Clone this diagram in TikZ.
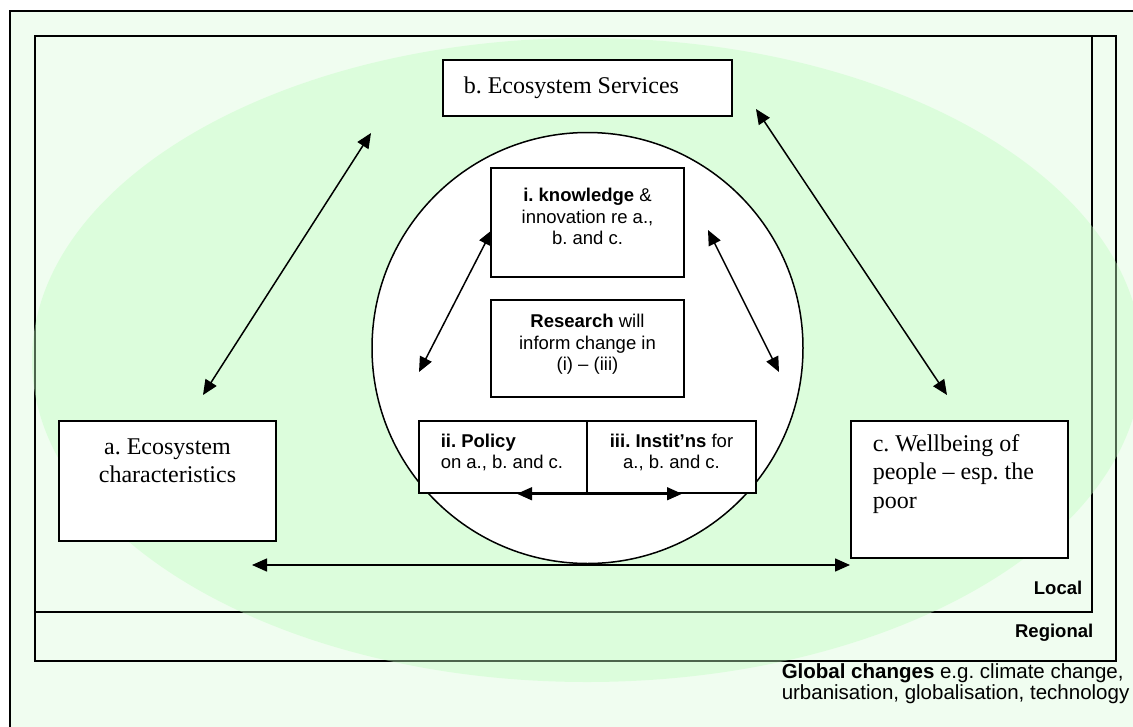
\documentclass[tikz,border=0pt]{standalone}
\usepackage{fontspec}
\setmainfont{Liberation Serif}
\setsansfont{Liberation Sans}
\usetikzlibrary{arrows.meta}
\definecolor{globalbg}{HTML}{F0FDF0}
\definecolor{blobgreen}{HTML}{C0FDC0}
\frenchspacing

\begin{document}
\begin{tikzpicture}[x=1pt,y=-1pt,line width=1.5pt,
    tri/.style={{Triangle[length=15pt,width=13pt]}-{Triangle[length=15pt,width=13pt]}},
    wbox/.style={draw,fill=white,line width=1.5pt,inner sep=0pt},
    seriftxt/.style={font=\fontsize{24}{28.5}\selectfont,inner sep=0pt},
    sanstxt/.style={font=\sffamily\fontsize{18.5}{21.5}\selectfont,inner sep=0pt},
    scalelbl/.style={font=\sffamily\bfseries\fontsize{18.5}{21.5}\selectfont,inner sep=0pt,anchor=east}]
    \useasboundingbox (0,0) rectangle (1133,726);
    %% global frame
    \begin{scope}
      \clip (0,0) rectangle (1133,726);
      \draw[fill=globalbg] (10,11) rectangle (1170,760);
    \end{scope}
    %% regional and local frames
    \draw[line width=1.6pt] (35,36) rectangle (1116,661);
    \draw[line width=1.6pt] (35,36) rectangle (1092,612);
    %% green blob
    \fill[blobgreen,fill opacity=0.4] (587,360) ellipse [x radius=555, y radius=322];
    %% centre circle
    \node (hub) [draw,circle,fill=white,inner sep=0pt,minimum size=431pt] at (587.5,348) {};
    %% boxes
    \node (serv) [wbox,minimum width=289pt,minimum height=56pt] at (587.5,88) {};
    \node (know) [wbox,minimum width=193pt,minimum height=109pt] at (587.5,222.5) {};
    \node (res)  [wbox,minimum width=193pt,minimum height=97pt] at (587.5,348.5) {};
    \node (pol)  [wbox,minimum width=168pt,minimum height=72pt] at (503,457) {};
    \node (inst) [wbox,minimum width=169pt,minimum height=72pt] at (671.5,457) {};
    \node (eco)  [wbox,minimum width=217pt,minimum height=120pt] at (167.5,481) {};
    \node (well) [wbox,minimum width=217pt,minimum height=137pt] at (959.5,489.5) {};
    %% texts
    \node[seriftxt,anchor=west] at (463,88) {b. Ecosystem Services};
    \node[seriftxt,align=center] at (167.5,461) {a. Ecosystem\\characteristics};
    \node[seriftxt,align=left,anchor=west] at (872,474) {c. Wellbeing of\\people -- esp. the\\poor};
    \node[sanstxt,align=center] at (587.5,216.5) {\textbf{i. knowledge} \&\\innovation re a.,\\b. and c.};
    \node[sanstxt,align=center] at (587.5,344.5) {\textbf{Research} will\\inform change in\\(i) -- (iii)};
    \node[sanstxt,align=left,anchor=west] at (440,452.5) {\textbf{ii. Policy}\\on a., b. and c.};
    \node[sanstxt,align=center] at (671.5,452.5) {\textbf{iii. Instit’ns} for\\a., b. and c.};
    \node[scalelbl] at (1083,588) {Local};
    \node[scalelbl] at (1094,633) {Regional};
    \node[sanstxt,font=\sffamily\fontsize{20.5}{21}\selectfont,align=left,anchor=west] at (781,683.5)
      {\textbf{Global changes} e.g. climate change,\\urbanisation, globalisation, technology};
    %% arrow ends
    \coordinate (ecoT) at (371,133);
    \coordinate (ecoB) at (203,395);
    \coordinate (wellT) at (756,109);
    \coordinate (wellB) at (947,395);
    \coordinate (knowL) at (492,230);
    \coordinate (polT) at (419,372);
    \coordinate (knowR) at (708,230);
    \coordinate (instT) at (779,372);
    \coordinate (baseL) at (252,565);
    \coordinate (baseR) at (850,565);
    %% arrows
    \draw[tri] (ecoT) -- (ecoB);
    \draw[tri] (wellT) -- (wellB);
    \draw[tri] (knowL) -- (polT);
    \draw[tri] (knowR) -- (instT);
    \draw[tri] (baseL) -- (baseR);
    \draw[tri] ([xshift=14pt]pol.south) -- ([xshift=10.5pt]inst.south);
\end{tikzpicture}
\end{document}
